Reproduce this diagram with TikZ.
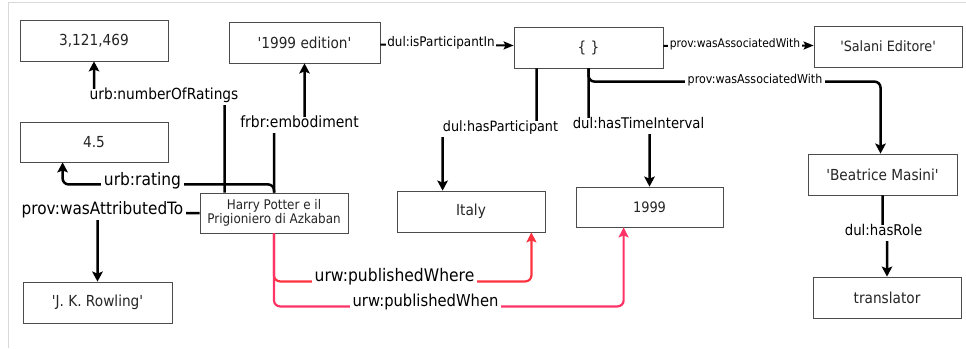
\documentclass[tikz,border=0pt]{standalone}
\usepackage{fontspec}
\setmainfont{DejaVu Sans}[Ligatures=TeXOff, FakeStretch=0.9]
\usetikzlibrary{arrows.meta,calc}
\definecolor{redA}{HTML}{FF3340}
\definecolor{redB}{HTML}{FF3366}
\tikzset{
  box/.style={draw=black!70, line width=0.8pt, fill=white, inner sep=0pt,
    minimum width=148pt, minimum height=41pt, text=black!85, align=center,
    font=\fontsize{15.2}{17}\selectfont},
  conn/.style={line width=2.5pt, rounded corners=6pt,
    -{Stealth[length=10pt,width=10.5pt,inset=2pt]}},
  sconn/.style={line width=2pt, -{Stealth[length=10pt,width=8pt,inset=2pt]}},
  rconn/.style={line width=2.2pt, rounded corners=6pt,
    -{Stealth[length=10pt,width=10pt,inset=2pt]}},
  lbl/.style={fill=white, inner xsep=2.5pt, inner ysep=3.5pt, text=black,
    text height=0.75em, text depth=0.2em,
    font=\fontsize{#1}{#1}\selectfont},
}
\begin{document}
\begin{tikzpicture}[x=1pt,y=-1pt]
\useasboundingbox (0,0) rectangle (966,348);
\draw[black!15, line width=1pt] (8.5,348) -- (8.5,2.5) -- (966,2.5);

% boxes
\node[box] (n3121) at (94,40.5) {3,121,469};
\node[box, minimum width=151pt] (ed) at (304.5,42.5) {'1999 edition'};
\node[box, minimum height=40pt] (r45) at (94,142) {4.5};
\node[box, minimum height=40pt, font=\fontsize{13.3}{14.5}\selectfont] (hp) at (274,213) {Harry Potter e il\\Prigioniero di Azkaban};
\node[box, minimum width=149pt] (jkr) at (97.5,302.5) {'J. K. Rowling'};
\node[box, minimum width=149pt] (ev) at (588.5,47.5) {\{ \}};
\node[box, font=\fontsize{14.2}{16}\selectfont] (sal) at (888,46.5) {'Salani Editore'};
\node[box, minimum width=149pt] (bm) at (882.5,174.5) {'Beatrice Masini'};
\node[box] (tr) at (887,297.5) {translator};
\node[box] (it) at (471,211.5) {Italy};
\node[box, minimum width=147pt, minimum height=40pt, font=\fontsize{14.4}{16}\selectfont] (y99) at (649.5,207) {1999};

% connectors
\draw[conn] ($(hp.north west)+(25,0)$) |- ($(n3121.south)+(0,36)$) -- (n3121.south);
\draw[conn] (hp.north) |- ($(ed.south)+(0,62)$) -- (ed.south);
\draw[conn] (hp.north) |- ($(r45.south west)+(43,22)$) -- ($(r45.south west)+(43,0)$);
\draw[conn] (hp.west) -| (jkr.north);
\draw[sconn] ($(ed.east)+(0,2)$) -- ($(ev.west)+(0,-2)$);
\draw[sconn] ($(ev.east)+(0,-1.5)$) -- ($(sal.west)+(0,-1)$);
\draw[conn] (ev.south) |- ($(bm.north)+(-2,-72)$) -- ($(bm.north)+(-2,0)$);
\draw[conn] ($(ev.south west)+(23,0)$) |- ($(it.north west)+(46,-61)$) -- ($(it.north west)+(46,0)$);
\draw[conn] (ev.south) |- ($(y99.north)+(0,-61)$) -- (y99.north);
\draw[conn] (bm.south) |- ($(tr.north)+(0,-44)$) -- (tr.north);
\draw[rconn, redA] (hp.south) |- ($(it.south east)+(-14,49)$) -- ($(it.south east)+(-14,0)$);
\draw[rconn, redB] (hp.south) |- ($(y99.south west)+(48,79)$) -- ($(y99.south west)+(48,0)$);

% labels
\node[lbl=15.3] (lNR) at (164,97) {urb:numberOfRatings};
\node[lbl=15.5] (lEm) at (299.5,125) {frbr:embodiment};
\node[lbl=17.2] (lRa) at (142.5,183) {urb:rating};
\node[lbl=17] (lAt) at (102.5,212) {prov:wasAttributedTo};
\node[lbl=13.3, inner xsep=1.5pt] (lPI) at (441,44) {dul:isParticipantIn};
\node[lbl=11.9, inner xsep=1.5pt] (lAW1) at (735,45) {prov:wasAssociatedWith};
\node[lbl=12.3] (lAW2) at (755,81) {prov:wasAssociatedWith};
\node[lbl=14.2] (lHP) at (500.5,129) {dul:hasParticipant};
\node[lbl=14.7] (lTI) at (638.5,126) {dul:hasTimeInterval};
\node[lbl=14.8] (lRo) at (883.5,233) {dul:hasRole};
\node[lbl=17.3] (lPW) at (394.5,279) {urw:publishedWhere};
\node[lbl=16.4] (lPN) at (425.5,304) {urw:publishedWhen};
\end{tikzpicture}
\end{document}
